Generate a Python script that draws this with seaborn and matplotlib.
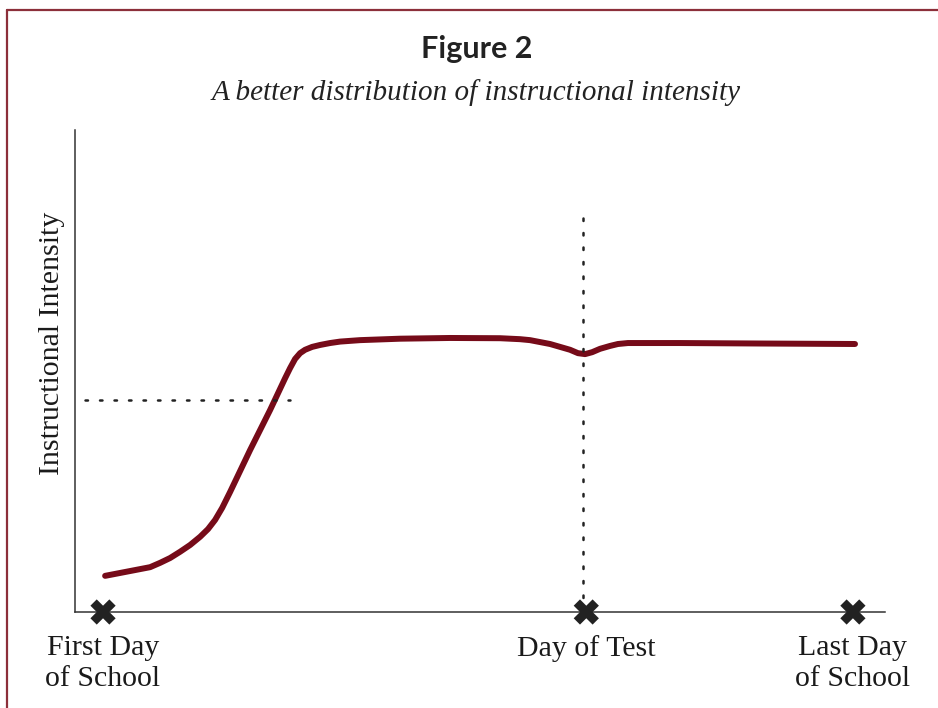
import matplotlib
matplotlib.use("Agg")
import matplotlib.pyplot as plt
import seaborn as sns
import pandas as pd
from matplotlib.lines import Line2D

# school days (first day = 0, last day = 180) and relative instructional intensity
days = [0.5, 4.1, 7.7, 11.3, 13.7, 16.1, 18.5, 20.9, 23.3, 25.2, 26.9, 28.6, 30.5,
        35.3, 40.1, 43.7, 44.9, 46.1, 47.3, 48.5, 50.2, 52.1, 54.5, 56.9, 61.7,
        71.3, 83.3, 95.3, 100.1, 102.5, 104.9, 107.3, 109.7, 112.1, 114.0, 115.7,
        117.4, 119.3, 121.7, 123.6, 126.0, 138.5, 157.7, 180.5]
intensity = [7.5, 8.1, 8.7, 9.3, 10.2, 11.2, 12.5, 13.9, 15.6, 17.2, 19.1, 21.6, 24.9,
             33.6, 41.9, 48.5, 50.6, 52.5, 53.7, 54.4, 55.0, 55.4, 55.8, 56.1, 56.4,
             56.7, 56.85, 56.8, 56.6, 56.4, 56.0, 55.6, 55.0, 54.4, 53.7, 53.5,
             53.9, 54.6, 55.2, 55.6, 55.8, 55.8, 55.7, 55.6]

marker_days = [0, 116, 180]
marker_labels = ["First Day\nof School", "Day of Test", "Last Day\nof School"]

ref_level = 44.0      # horizontal dotted guide
ref_level_end = 44.9
test_line_top = 83.0

curve = pd.DataFrame({"day": days, "intensity": intensity})

sns.set_theme(style="white")
plt.rcParams["font.family"] = ["Liberation Serif", "DejaVu Serif"]

fig = plt.figure(figsize=(9.38, 7.08), dpi=100)
ax = fig.add_axes([0.080, 0.1356, 0.8635, 0.6808])

sns.lineplot(data=curve, x="day", y="intensity", color="#760b19", lw=4.3,
             ax=ax, solid_capstyle="round", solid_joinstyle="round")

ax.plot([-4.3, ref_level_end], [ref_level, ref_level], color="#222222",
        lw=1.8, linestyle=(0, (1, 4.8)), dash_capstyle="round")
ax.plot([115.2, 115.2], [0, test_line_top], color="#222222",
        lw=1.8, linestyle=(0, (1, 4.8)), dash_capstyle="round")

ax.scatter(marker_days, [0] * len(marker_days), marker="X", s=330,
           color="#222222", edgecolor="none", zorder=5, clip_on=False)

ax.set_xlim(-6.72, 187.7)
ax.set_ylim(0, 100)
ax.set_yticks([])
ax.set_xticks(marker_days)
ax.set_xticklabels(marker_labels, fontsize=21.5, color="#1a1a1a", linespacing=1.25)
ax.tick_params(axis="x", length=0, pad=16.5)
ax.set_xlabel("")
ax.set_ylabel("Instructional Intensity", fontsize=21.5, color="#1a1a1a")
ax.yaxis.set_label_coords(-0.012, 0.558)

for side in ["top", "right"]:
    ax.spines[side].set_visible(False)
for side in ["left", "bottom"]:
    ax.spines[side].set_color("#333333")
    ax.spines[side].set_linewidth(1.1)

fig.text(0.508, 0.931, "Figure 2", ha="center", va="center", fontsize=22,
         fontweight="bold", family=["Lato", "DejaVu Sans"], color="#222222")
fig.text(0.508, 0.870, "A better distribution of instructional intensity",
         ha="center", va="center", fontsize=21, style="italic", color="#222222")

# page frame
frame_color = "#8c2f3a"
fig.add_artist(Line2D([7 / 938, 1.0], [1 - 10 / 708, 1 - 10 / 708],
                      transform=fig.transFigure, color=frame_color, lw=1.6))
fig.add_artist(Line2D([7 / 938, 7 / 938], [0, 1 - 10 / 708],
                      transform=fig.transFigure, color=frame_color, lw=1.6))

fig.savefig("out.png", dpi=100, facecolor="white")
